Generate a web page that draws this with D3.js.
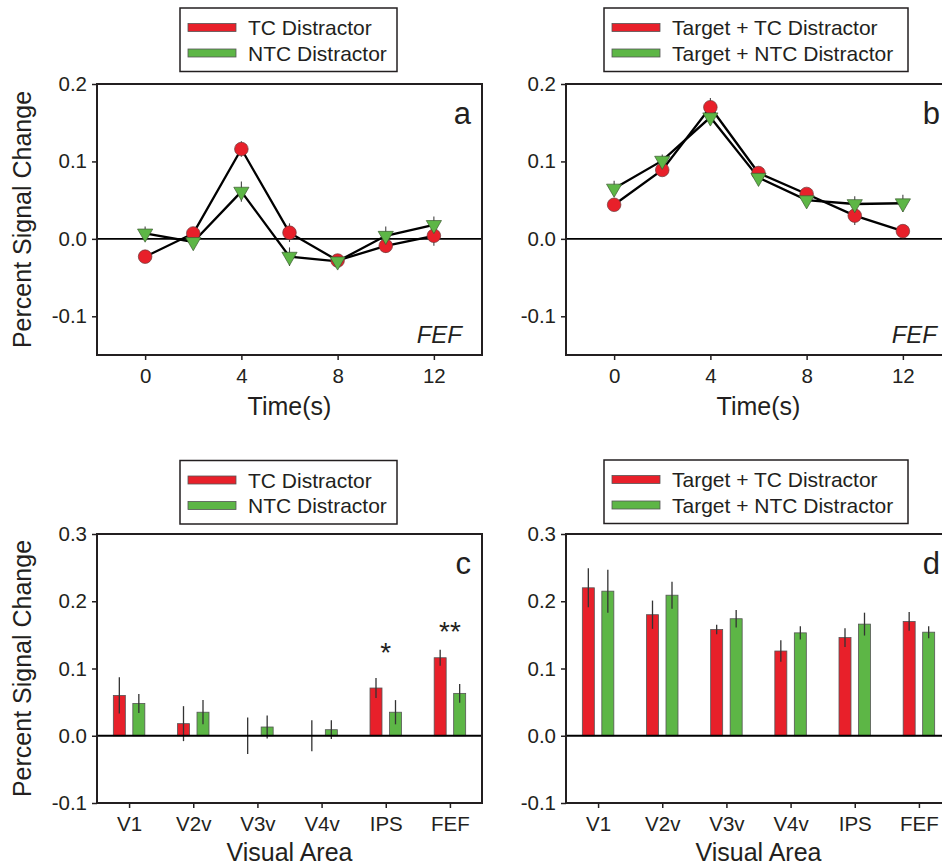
<!DOCTYPE html>
<html>
<head>
<meta charset="utf-8">
<script src="https://d3js.org/d3.v7.min.js"></script>
<style>
body { margin: 0; background: #fff; }
text { font-family: "Liberation Sans", Arial, sans-serif; fill: #231f20; }
</style>
</head>
<body>
<div id="figure"></div>
<script>
// ---------------- data ----------------
var times = [0, 2, 4, 6, 8, 10, 12];
var timeTicks = [0, 4, 8, 12];

// panel a : distractor alone
var aTC = [-0.023, 0.007, 0.116, 0.008, -0.028, -0.009, 0.004];
var aTCerr = [0.005, 0.006, 0.010, 0.012, 0.007, 0.009, 0.013];
var aNTC = [0.007, -0.004, 0.061, -0.023, -0.029, 0.004, 0.018];
var aNTCerr = [0.009, 0.005, 0.013, 0.012, 0.006, 0.012, 0.011];

// panel b : target + distractor
var bTC = [0.044, 0.089, 0.170, 0.085, 0.058, 0.030, 0.010];
var bTCerr = [0.006, 0.007, 0.012, 0.008, 0.007, 0.012, 0.008];
var bNTC = [0.065, 0.101, 0.157, 0.079, 0.050, 0.045, 0.046];
var bNTCerr = [0.010, 0.008, 0.010, 0.008, 0.007, 0.010, 0.011];

var areas = ["V1", "V2v", "V3v", "V4v", "IPS", "FEF"];

// panel c : distractor alone, peak response per area
var cTC = [0.060, 0.018, 0.000, 0.000, 0.071, 0.116];
var cTCerr = [0.027, 0.026, 0.027, 0.023, 0.015, 0.012];
var cNTC = [0.048, 0.035, 0.013, 0.009, 0.035, 0.063];
var cNTCerr = [0.014, 0.018, 0.017, 0.014, 0.018, 0.014];

// panel d : target + distractor, peak response per area
var dTC = [0.220, 0.180, 0.158, 0.126, 0.146, 0.170];
var dTCerr = [0.029, 0.021, 0.007, 0.016, 0.014, 0.014];
var dNTC = [0.215, 0.209, 0.174, 0.153, 0.166, 0.154];
var dNTCerr = [0.032, 0.020, 0.013, 0.010, 0.017, 0.009];

// significance marks in panel c
var sigAreas = ["IPS", "FEF"];
var sigText = ["*", "**"];
var sigLevel = [0.131, 0.161];

var topTicks = [-0.1, 0.0, 0.1, 0.2];
var bottomTicks = [-0.1, 0.0, 0.1, 0.2, 0.3];

var legendLeft = ["TC Distractor", "NTC Distractor"];
var legendRight = ["Target + TC Distractor", "Target + NTC Distractor"];

var red = "#e8202a";
var green = "#5db646";
var ink = "#231f20";

function init() {
    var w = 942;
    var h = 867;

    var svg = d3.select("#figure")
                .append("svg")
                .attr("width", w)
                .attr("height", h);

    var fmt = function(d) { return d3.format(".1f")(d).replace("\u2212", "-"); };

    //---------------- line panels ----------------
    function linePanel(p) {
        var x = d3.scaleLinear().domain([-2, 14]).range(p.xr);
        var y = d3.scaleLinear().domain([-0.15, 0.2]).range(p.yr);
        var g = svg.append("g");

        // axes (outward ticks, frame drawn separately)
        var xAxis = g.append("g")
            .attr("transform", "translate(0," + p.yr[0] + ")")
            .call(d3.axisBottom(x).tickValues(timeTicks).tickSize(5).tickPadding(8));
        var yAxis = g.append("g")
            .attr("transform", "translate(" + p.xr[0] + ",0)")
            .call(d3.axisLeft(y).tickValues(topTicks).tickFormat(fmt).tickSize(5).tickPadding(5));
        [xAxis, yAxis].forEach(function(a) {
            a.select(".domain").remove();
            a.selectAll("line").attr("stroke", ink).attr("stroke-width", 1.5);
            a.selectAll("text").style("font-size", "20.5px").attr("fill", ink);
        });

        // zero line
        g.append("line")
            .attr("x1", p.xr[0]).attr("x2", p.xr[1])
            .attr("y1", y(0)).attr("y2", y(0))
            .attr("stroke", "#000").attr("stroke-width", 1.8);

        var series = [
            {v: p.tc, e: p.tcErr, color: red, shape: "circle"},
            {v: p.ntc, e: p.ntcErr, color: green, shape: "tri"}
        ];

        series.forEach(function(s) {
            var pts = times.map(function(t, i) { return {t: t, v: s.v[i], e: s.e[i]}; });

            g.selectAll(null)
                .data(pts)
                .enter()
                .append("line")
                .attr("x1", function(d) { return x(d.t); })
                .attr("x2", function(d) { return x(d.t); })
                .attr("y1", function(d) { return y(d.v - d.e); })
                .attr("y2", function(d) { return y(d.v + d.e); })
                .attr("stroke", "#444").attr("stroke-width", 1.1);

            g.append("path")
                .datum(pts)
                .attr("d", d3.line().x(function(d) { return x(d.t); }).y(function(d) { return y(d.v); }))
                .attr("fill", "none")
                .attr("stroke", "#000")
                .attr("stroke-width", 2.3);
        });

        series.forEach(function(s) {
            var pts = times.map(function(t, i) { return {t: t, v: s.v[i]}; });
            if (s.shape == "circle") {
                g.selectAll(null)
                    .data(pts)
                    .enter()
                    .append("circle")
                    .attr("cx", function(d) { return x(d.t); })
                    .attr("cy", function(d) { return y(d.v); })
                    .attr("r", 6.8)
                    .attr("fill", s.color)
                    .attr("stroke", "#6b3a3a").attr("stroke-width", 0.7);
            } else {
                g.selectAll(null)
                    .data(pts)
                    .enter()
                    .append("path")
                    .attr("d", d3.symbol().type(d3.symbolTriangle).size(100))
                    .attr("transform", function(d) { return "translate(" + x(d.t) + "," + y(d.v) + ") rotate(180)"; })
                    .attr("fill", s.color)
                    .attr("stroke", "#3c5a30").attr("stroke-width", 0.7);
            }
        });

        frame(g, p);

        g.append("text")
            .attr("x", (p.xr[0] + p.xr[1]) / 2).attr("y", 415)
            .attr("text-anchor", "middle")
            .style("font-size", "25px")
            .text("Time(s)");

        g.append("text")
            .attr("x", p.xr[1] - p.fefOff).attr("y", p.yr[0] - 12)
            .attr("text-anchor", "end")
            .style("font-size", "24px").style("font-style", "italic")
            .text("FEF");
    }

    //---------------- bar panels ----------------
    function barPanel(p) {
        var x = d3.scalePoint().domain(areas).range(p.xr).padding(0.5);
        var y = d3.scaleLinear().domain([-0.1, 0.3]).range(p.yr);
        var g = svg.append("g");
        var bw = 12;
        var off = 9.75;

        var xAxis = g.append("g")
            .attr("transform", "translate(0," + p.yr[0] + ")")
            .call(d3.axisBottom(x).tickSize(5).tickPadding(8.5));
        var yAxis = g.append("g")
            .attr("transform", "translate(" + p.xr[0] + ",0)")
            .call(d3.axisLeft(y).tickValues(bottomTicks).tickFormat(fmt).tickSize(5).tickPadding(5));
        [xAxis, yAxis].forEach(function(a) {
            a.select(".domain").remove();
            a.selectAll("line").attr("stroke", ink).attr("stroke-width", 1.5);
            a.selectAll("text").style("font-size", "20.5px").attr("fill", ink);
        });

        var series = [
            {v: p.tc, e: p.tcErr, color: red, dx: -off},
            {v: p.ntc, e: p.ntcErr, color: green, dx: off}
        ];

        series.forEach(function(s) {
            var rows = areas.map(function(a, i) { return {a: a, v: s.v[i], e: s.e[i]}; });

            g.selectAll(null)
                .data(rows.filter(function(d) { return d.v > 0; }))
                .enter()
                .append("rect")
                .attr("x", function(d) { return x(d.a) + s.dx - bw / 2; })
                .attr("width", bw)
                .attr("y", function(d) { return y(d.v); })
                .attr("height", function(d) { return y(0) - y(d.v); })
                .attr("fill", s.color)
                .attr("stroke", "#555").attr("stroke-width", 0.8);

            g.selectAll(null)
                .data(rows)
                .enter()
                .append("line")
                .attr("x1", function(d) { return x(d.a) + s.dx; })
                .attr("x2", function(d) { return x(d.a) + s.dx; })
                .attr("y1", function(d) { return y(d.v - d.e); })
                .attr("y2", function(d) { return y(d.v + d.e); })
                .attr("stroke", "#333").attr("stroke-width", 1.3);
        });

        // zero line on top of bar bottoms
        g.append("line")
            .attr("x1", p.xr[0]).attr("x2", p.xr[1])
            .attr("y1", y(0)).attr("y2", y(0))
            .attr("stroke", "#000").attr("stroke-width", 1.8);

        if (p.stars) {
            g.selectAll(null)
                .data(sigAreas)
                .enter()
                .append("text")
                .attr("x", function(d) { return x(d); })
                .attr("y", function(d, i) { return y(sigLevel[i]) + 14; })
                .attr("text-anchor", "middle")
                .style("font-size", "28px")
                .text(function(d, i) { return sigText[i]; });
        }

        frame(g, p);

        g.append("text")
            .attr("x", (p.xr[0] + p.xr[1]) / 2).attr("y", 861)
            .attr("text-anchor", "middle")
            .style("font-size", "25px")
            .text("Visual Area");
    }

    //---------------- shared pieces ----------------
    function frame(g, p) {
        g.append("rect")
            .attr("x", p.xr[0]).attr("y", p.yr[1])
            .attr("width", p.xr[1] - p.xr[0])
            .attr("height", p.yr[0] - p.yr[1])
            .attr("fill", "none")
            .attr("stroke", ink).attr("stroke-width", 2);

        g.append("text")
            .attr("x", p.xr[1] - 11).attr("y", p.yr[1] + 40)
            .attr("text-anchor", "end")
            .style("font-size", "31px")
            .text(p.letter);

        if (p.ylabel) {
            g.append("text")
                .attr("transform", "rotate(-90)")
                .attr("x", -(p.yr[0] + p.yr[1]) / 2)
                .attr("y", 31)
                .attr("text-anchor", "middle")
                .style("font-size", "25px")
                .text("Percent Signal Change");
        }

        legend(p.legend, p.legX, p.legY, p.legW);
    }

    function legend(labels, lx, ly, lw) {
        var lg = svg.append("g").attr("transform", "translate(" + lx + "," + ly + ")");
        lg.append("rect")
            .attr("width", lw).attr("height", 63.5)
            .attr("fill", "#fff")
            .attr("stroke", ink).attr("stroke-width", 1.5);
        var cols = [red, green];
        var rows = lg.selectAll(null)
            .data(labels)
            .enter()
            .append("g")
            .attr("transform", function(d, i) { return "translate(0," + (i * 25.5) + ")"; });
        rows.append("rect")
            .attr("x", 8).attr("y", 15.5)
            .attr("width", 48).attr("height", 8)
            .attr("fill", function(d, i) { return cols[i]; })
            .attr("stroke", "#555").attr("stroke-width", 0.8);
        rows.append("text")
            .attr("x", 68).attr("y", 27.3)
            .style("font-size", "21px")
            .text(function(d) { return d; });
    }

    linePanel({xr: [97, 482], yr: [355, 84], tc: aTC, tcErr: aTCerr, ntc: aNTC, ntcErr: aNTCerr,
               letter: "a", ylabel: true, legend: legendLeft, legX: 180, legY: 8, legW: 217, fefOff: 20});
    linePanel({xr: [566, 951], yr: [355, 84], tc: bTC, tcErr: bTCerr, ntc: bNTC, ntcErr: bNTCerr,
               letter: "b", ylabel: false, legend: legendRight, legX: 604, legY: 8, legW: 304, fefOff: 14});
    barPanel({xr: [97, 482], yr: [803, 534], tc: cTC, tcErr: cTCerr, ntc: cNTC, ntcErr: cNTCerr,
              letter: "c", ylabel: true, stars: true, legend: legendLeft, legX: 180, legY: 460.5, legW: 217});
    barPanel({xr: [566, 951], yr: [803, 534], tc: dTC, tcErr: dTCerr, ntc: dNTC, ntcErr: dNTCerr,
              letter: "d", ylabel: false, stars: false, legend: legendRight, legX: 604, legY: 460, legW: 304});
}

window.onload = init;
</script>
</body>
</html>
